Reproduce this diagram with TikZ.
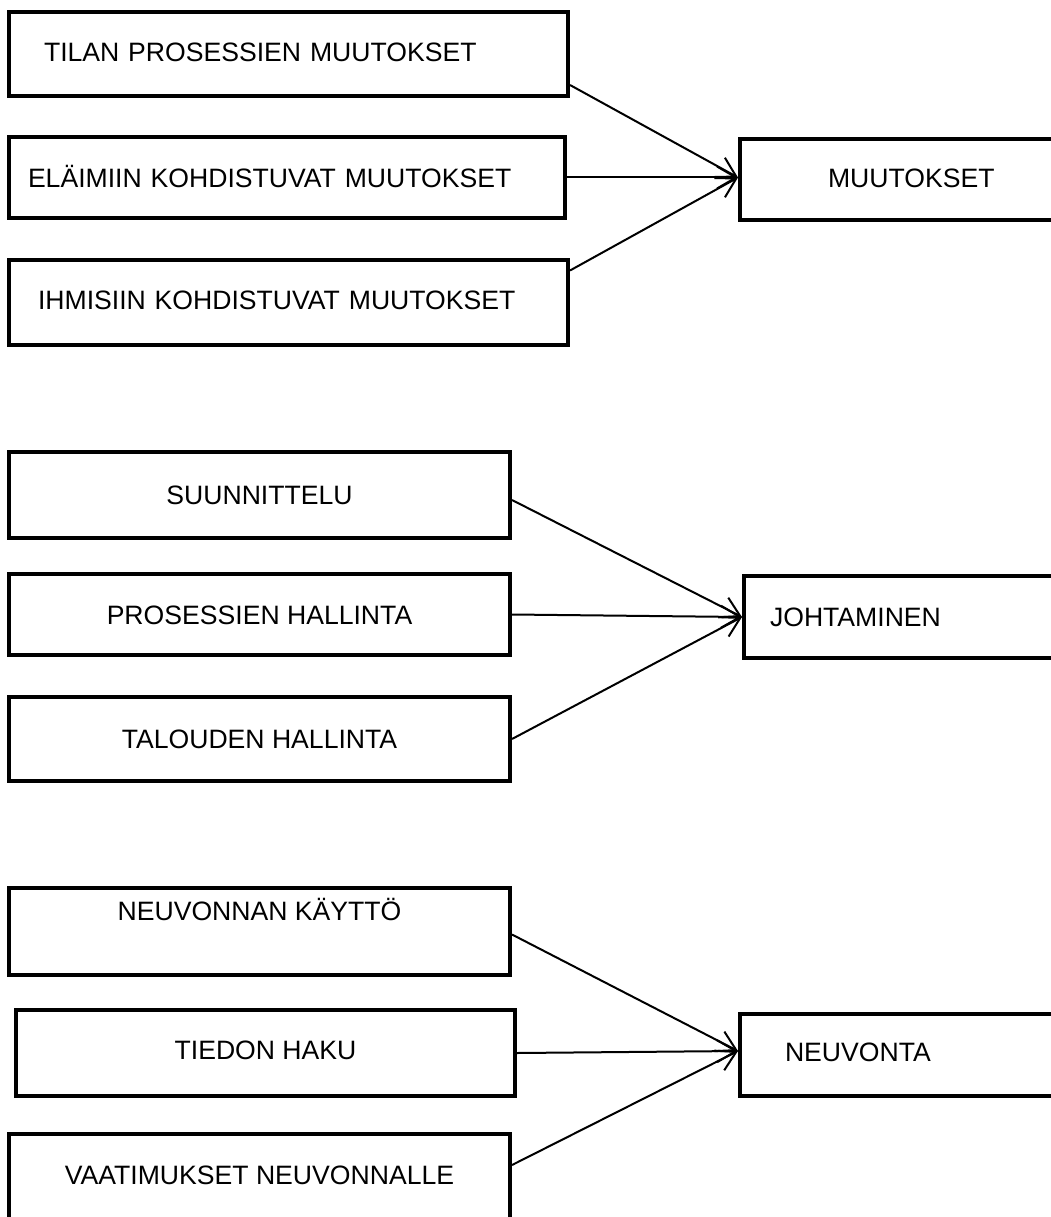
\documentclass[tikz,border=0pt]{standalone}
\usepackage{fontspec}
\setmainfont{Liberation Sans}
\usetikzlibrary{arrows.meta}

\begin{document}
\begin{tikzpicture}[x=1pt,y=-1pt,
    box/.style={draw, line width=4pt, anchor=north west, inner ysep=0pt,
        text height=19pt, text depth=0pt, align=left,
        font=\fontsize{26.6pt}{30pt}\selectfont},
    flow/.style={line width=2pt, -{Straight Barb[length=19pt,width=22pt,line width=2pt]}}]
    \useasboundingbox (0,0) rectangle (1050,1217);

    \node[box, text width=489pt, inner xsep=35pt, minimum height=84pt, text depth=4pt] (a1) at (7,10) {TILAN PROSESSIEN MUUTOKSET};
    \node[box, text width=518pt, inner xsep=19pt, minimum height=81pt] (a2) at (7,135) {ELÄIMIIN KOHDISTUVAT MUUTOKSET};
    \node[box, text width=501pt, inner xsep=29pt, minimum height=85pt, text depth=5pt] (a3) at (7,258) {IHMISIIN KOHDISTUVAT MUUTOKSET};
    \node[box, text width=400pt, inner xsep=88pt, minimum height=81pt, text depth=3pt] (m) at (738,137) {MUUTOKSET};

    \draw[flow] ([yshift=-31pt]a1.east) -- ([yshift=2pt]m.west);
    \draw[flow] (a2.east) -- ([yshift=2pt]m.west);
    \draw[flow] ([yshift=32pt]a3.east) -- ([yshift=2pt]m.west);

    \node[box, align=center, minimum width=501pt, minimum height=86pt] (b1) at (7,450) {SUUNNITTELU};
    \node[box, align=center, minimum width=501pt, minimum height=81pt] (b2) at (7,572) {PROSESSIEN HALLINTA};
    \node[box, align=center, minimum width=501pt, minimum height=84pt] (b3) at (7,695) {TALOUDEN HALLINTA};
    \node[box, text width=400pt, inner xsep=26pt, minimum height=82pt] (j) at (742,574) {JOHTAMINEN};

    \draw[flow] ([yshift=-5pt]b1.east) -- (j.west);
    \draw[flow] (b2.east) -- (j.west);
    \draw[flow] (b3.east) -- (j.west);

    \node[box, align=center, minimum width=501pt, minimum height=87pt, text depth=41pt] (c1) at (7,886) {NEUVONNAN KÄYTTÖ};
    \node[box, align=center, minimum width=499pt, minimum height=86pt, text depth=6pt] (c2) at (14,1008) {TIEDON HAKU};
    \node[box, align=center, minimum width=501pt, minimum height=100pt, text depth=18pt] (c3) at (7,1132) {VAATIMUKSET NEUVONNALLE};
    \node[box, text width=400pt, inner xsep=45pt, minimum height=82pt, text depth=6pt] (n) at (738,1012) {NEUVONTA};

    \draw[flow] ([yshift=-3pt]c1.east) -- ([yshift=4pt]n.west);
    \draw[flow] (c2.east) -- ([yshift=4pt]n.west);
    \draw[flow] ([yshift=19pt]c3.east) -- ([yshift=4pt]n.west);
\end{tikzpicture}
\end{document}
